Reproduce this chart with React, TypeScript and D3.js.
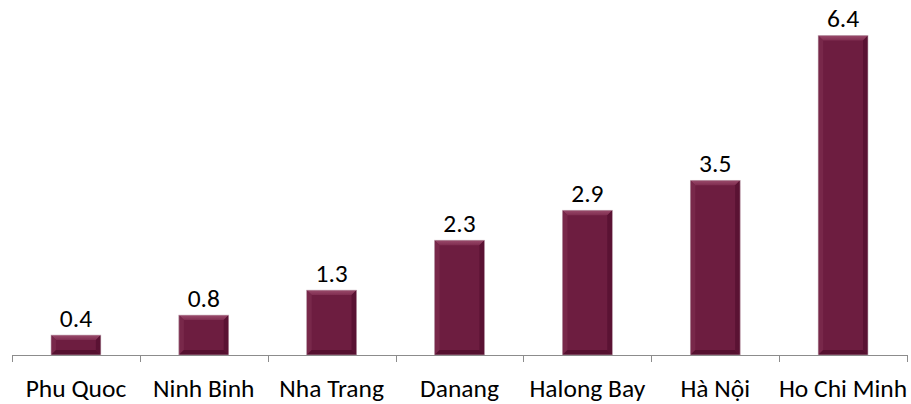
import React from "react";
import * as d3 from "d3";

const categories = ["Phu Quoc", "Ninh Binh", "Nha Trang", "Danang", "Halong Bay", "Hà Nội", "Ho Chi Minh"];
const values = [0.4, 0.8, 1.3, 2.3, 2.9, 3.5, 6.4];
const valueLabels = ["0.4", "0.8", "1.3", "2.3", "2.9", "3.5", "6.4"];

const W = 911;
const H = 404;
const axisY = 355;
const left = 12;
const right = 907;
const FONT = "Carlito, Calibri, 'Open Sans', sans-serif";

export default function App() {
  const x = d3.scaleBand<string>().domain(categories).range([left, right]).paddingInner(0.61).paddingOuter(0.305);
  const y = d3.scaleLinear().domain([0, 6.4]).range([axisY, 35.5]);
  const bw = x.bandwidth();
  const b = 5;
  const tickXs = d3.range(categories.length + 1).map((i) => left + ((right - left) / categories.length) * i);
  return (
    <svg width={W} height={H} style={{ position: "absolute", left: 0, top: 0 }}>
      <defs>
        <linearGradient id="topBevel" x1="0" y1="0" x2="0" y2="1">
          <stop offset="0" stopColor="#9a4a6b" />
          <stop offset="1" stopColor="#7f2d50" />
        </linearGradient>
      </defs>
      {categories.map((c, i) => {
        const x0 = x(c)!;
        const x1 = x0 + bw;
        const y0 = y(values[i]);
        const y1 = axisY;
        const bb = Math.min(b, (y1 - y0) / 2);
        return (
          <g key={c}>
            <rect x={x0} y={y0} width={bw} height={y1 - y0} fill="#6d1d40" />
            <polygon points={`${x0},${y0} ${x1},${y0} ${x1 - bb},${y0 + bb} ${x0 + bb},${y0 + bb}`} fill="url(#topBevel)" />
            <polygon points={`${x0},${y0} ${x0 + bb},${y0 + bb} ${x0 + bb},${y1 - bb} ${x0},${y1}`} fill="#78284a" />
            <polygon points={`${x1},${y0} ${x1 - bb},${y0 + bb} ${x1 - bb},${y1 - bb} ${x1},${y1}`} fill="#5a1233" />
            <polygon points={`${x0},${y1} ${x0 + bb},${y1 - bb} ${x1 - bb},${y1 - bb} ${x1},${y1}`} fill="#55102f" />
            <rect x={x0} y={y0} width={bw} height={y1 - y0} fill="none" stroke="#c9b3bd" strokeWidth={0.6} />
            <text x={x0 + bw / 2} y={y0 - 8.5} textAnchor="middle" fontFamily={FONT} fontSize={25.5} fill="#000">
              {valueLabels[i]}
            </text>
            <text x={x0 + bw / 2} y={397} textAnchor="middle" fontFamily={FONT} fontSize={25.5} fill="#000">
              {c}
            </text>
          </g>
        );
      })}
      <line x1={left} x2={right} y1={axisY + 0.5} y2={axisY + 0.5} stroke="#8c8c8c" strokeWidth={1} />
      {tickXs.map((tx, i) => (
        <line key={i} x1={Math.round(tx) + 0.5} x2={Math.round(tx) + 0.5} y1={axisY} y2={axisY + 7} stroke="#8c8c8c" strokeWidth={1} />
      ))}
    </svg>
  );
}
